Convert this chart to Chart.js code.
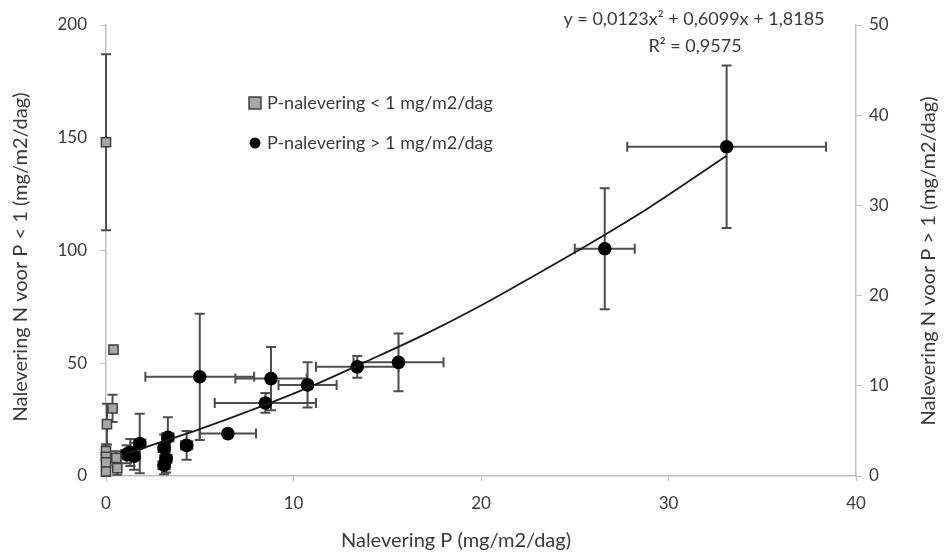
<!DOCTYPE html>
<html>
<head>
<meta charset="utf-8">
<script src="https://cdn.jsdelivr.net/npm/chart.js@4.4.1/dist/chart.umd.min.js"></script>
<style>
  html, body { margin: 0; padding: 0; background: #fff; }
  #wrap { width: 945px; height: 553px; }
</style>
</head>
<body>
<div id="wrap"><canvas id="chart" width="945" height="553"></canvas></div>
<script>
// P-nalevering < 1 mg/m2/dag (left axis)
const lowX    = [0.0, 0.4, 0.35, 0.05, 0.0, 0.0, 0.0, 0.0, 0.55, 0.6];
const lowY    = [148, 56, 30, 23, 11, 8.5, 6, 2, 8, 3.5];
const lowXErr = [0.1, 0.1, 0.1, 0.1, 0.1, 0.1, 0.1, 0.1, 0.2, 0.2];
const lowYErr = [39, 0, 6, 9, 3, 3, 3, 2, 3, 3];

// P-nalevering > 1 mg/m2/dag (right axis)
const highX    = [33.1, 26.6, 15.6, 13.4, 10.75, 8.8, 8.5, 5.0, 6.5, 4.3, 3.3, 3.1, 3.2, 3.1, 1.8, 1.3, 1.5, 1.1];
const highY    = [36.5, 25.2, 12.6, 12.1, 10.1, 10.8, 8.1, 11.0, 4.7, 3.4, 4.3, 3.1, 1.9, 1.2, 3.6, 2.6, 2.2, 2.4];
const highXErr = [5.3, 1.6, 2.4, 2.2, 1.55, 1.9, 2.7, 2.9, 1.5, 0.3, 0.3, 0.3, 0.3, 0.3, 0.3, 0.3, 0.3, 0.3];
const highYErr = [9, 6.7, 3.2, 1.2, 2.5, 3.5, 1.1, 7, 0, 1.6, 2.2, 1.5, 1.5, 1, 3.3, 1.5, 1.5, 1];

// trend line (polynomial)
const trendX = [1.1, 3, 5, 8, 11, 14, 17, 20, 23, 26, 29, 33.1];
const trendY = [2.5, 3.8, 5.2, 7.5, 10.0, 12.8, 15.7, 18.9, 22.4, 26.0, 29.8, 35.5];

const xTicks = [0, 10, 20, 30, 40];
const yLeftTicks = [0, 50, 100, 150, 200];
const yRightTicks = [0, 10, 20, 30, 40, 50];

const xTitle = 'Nalevering P (mg/m2/dag)';
const yLeftTitle = 'Nalevering N voor P < 1 (mg/m2/dag)';
const yRightTitle = 'Nalevering N voor P > 1 (mg/m2/dag)';
const legendLabels = ['P-nalevering < 1 mg/m2/dag', 'P-nalevering > 1 mg/m2/dag'];
const equation = ['y = 0,0123x\u00b2 + 0,6099x + 1,8185', 'R\u00b2 = 0,9575'];

const FONT = 'Lato, "Noto Sans", sans-serif';
const TEXT = '#3a3a3a';
const AXIS = '#bfbfbf';

const toPts = (xs, ys) => xs.map((x, i) => ({ x: x, y: ys[i] }));

const errorBars = {
  id: 'errorBars',
  beforeDatasetsDraw(chart) {
    const ctx = chart.ctx;
    const xs = chart.scales.x;
    const sets = [
      [lowX, lowY, lowXErr, lowYErr, chart.scales.y],
      [highX, highY, highXErr, highYErr, chart.scales.y2]
    ];
    ctx.save();
    ctx.strokeStyle = '#4d4d4d';
    ctx.lineWidth = 2;
    const cap = 5;
    sets.forEach(([X, Y, XE, YE, ys]) => {
      X.forEach((x, i) => {
        const px = xs.getPixelForValue(x);
        const py = ys.getPixelForValue(Y[i]);
        if (YE[i] > 0) {
          const t = ys.getPixelForValue(Y[i] + YE[i]);
          const b = ys.getPixelForValue(Math.max(0, Y[i] - YE[i]));
          ctx.beginPath();
          ctx.moveTo(px, t); ctx.lineTo(px, b);
          ctx.moveTo(px - cap, t); ctx.lineTo(px + cap, t);
          ctx.moveTo(px - cap, b); ctx.lineTo(px + cap, b);
          ctx.stroke();
        }
        if (XE[i] > 0) {
          const l = xs.getPixelForValue(Math.max(0, x - XE[i]));
          const r = xs.getPixelForValue(x + XE[i]);
          ctx.beginPath();
          ctx.moveTo(l, py); ctx.lineTo(r, py);
          ctx.moveTo(l, py - cap); ctx.lineTo(l, py + cap);
          ctx.moveTo(r, py - cap); ctx.lineTo(r, py + cap);
          ctx.stroke();
        }
      });
    });
    ctx.restore();
  }
};

const texts = {
  id: 'texts',
  afterDraw(chart) {
    const ctx = chart.ctx;
    ctx.save();
    ctx.fillStyle = TEXT;
    ctx.textBaseline = 'middle';

    // axis titles
    ctx.font = '20px ' + FONT;
    ctx.textAlign = 'center';
    ctx.fillText(xTitle, 456, 541);
    ctx.save();
    ctx.translate(21, 257);
    ctx.rotate(-Math.PI / 2);
    ctx.fillText(yLeftTitle, 0, 0);
    ctx.restore();
    ctx.save();
    ctx.translate(929, 261);
    ctx.rotate(-Math.PI / 2);
    ctx.fillText(yRightTitle, 0, 0);
    ctx.restore();

    // trendline equation
    ctx.font = '18px ' + FONT;
    ctx.fillText(equation[0], 694, 19);
    ctx.fillText(equation[1], 695, 46);

    // legend
    ctx.textAlign = 'left';
    ctx.fillStyle = '#a6a6a6';
    ctx.strokeStyle = '#404040';
    ctx.lineWidth = 1.5;
    ctx.fillRect(249, 97, 12, 12);
    ctx.strokeRect(249, 97, 12, 12);
    ctx.fillStyle = '#000';
    ctx.beginPath();
    ctx.arc(255, 143, 5.5, 0, Math.PI * 2);
    ctx.fill();
    ctx.fillStyle = TEXT;
    ctx.font = '18px ' + FONT;
    ctx.fillText(legendLabels[0], 267, 103);
    ctx.fillText(legendLabels[1], 267, 143);
    ctx.restore();
  }
};

const tickFont = { family: FONT, size: 17 };

new Chart(document.getElementById('chart'), {
  type: 'scatter',
  data: {
    datasets: [
      {
        label: legendLabels[0],
        data: toPts(lowX, lowY),
        yAxisID: 'y',
        pointStyle: 'rect',
        pointRadius: 6.5,
        backgroundColor: '#a6a6a6',
        borderColor: '#404040',
        borderWidth: 1.5,
        clip: false,
        order: 1
      },
      {
        label: legendLabels[1],
        data: toPts(highX, highY),
        yAxisID: 'y2',
        pointStyle: 'circle',
        pointRadius: 6.8,
        backgroundColor: '#000',
        borderColor: '#000',
        borderWidth: 0,
        clip: false,
        order: 2
      },
      {
        type: 'line',
        label: 'trend',
        data: toPts(trendX, trendY),
        yAxisID: 'y2',
        borderColor: '#1a1a1a',
        borderWidth: 1.8,
        pointRadius: 0,
        cubicInterpolationMode: 'monotone',
        fill: false,
        order: 0
      }
    ]
  },
  options: {
    responsive: false,
    animation: false,
    layout: { padding: { top: 25, left: 0, right: 0, bottom: 0 } },
    plugins: {
      legend: { display: false },
      tooltip: { enabled: false }
    },
    scales: {
      x: {
        type: 'linear',
        min: 0, max: 40,
        afterFit: s => { s.height = 77; },
        afterBuildTicks: s => { s.ticks = xTicks.map(v => ({ value: v })); },
        grid: { drawOnChartArea: false, drawTicks: true, tickLength: 5, color: AXIS },
        border: { display: true, color: AXIS, width: 1.5 },
        ticks: { font: tickFont, color: TEXT, padding: 12 }
      },
      y: {
        type: 'linear',
        position: 'left',
        min: 0, max: 200,
        afterFit: s => { s.width = 106; },
        afterBuildTicks: s => { s.ticks = yLeftTicks.map(v => ({ value: v })); },
        grid: { drawOnChartArea: false, drawTicks: true, tickLength: 6, color: AXIS },
        border: { display: true, color: AXIS, width: 1.5 },
        ticks: { font: tickFont, color: TEXT, padding: 13 }
      },
      y2: {
        type: 'linear',
        position: 'right',
        min: 0, max: 50,
        afterFit: s => { s.width = 89; },
        afterBuildTicks: s => { s.ticks = yRightTicks.map(v => ({ value: v })); },
        grid: { drawOnChartArea: false, drawTicks: true, tickLength: 6, color: AXIS },
        border: { display: true, color: AXIS, width: 1.5 },
        ticks: { font: tickFont, color: TEXT, padding: 7 }
      }
    }
  },
  plugins: [errorBars, texts]
});
</script>
</body>
</html>
